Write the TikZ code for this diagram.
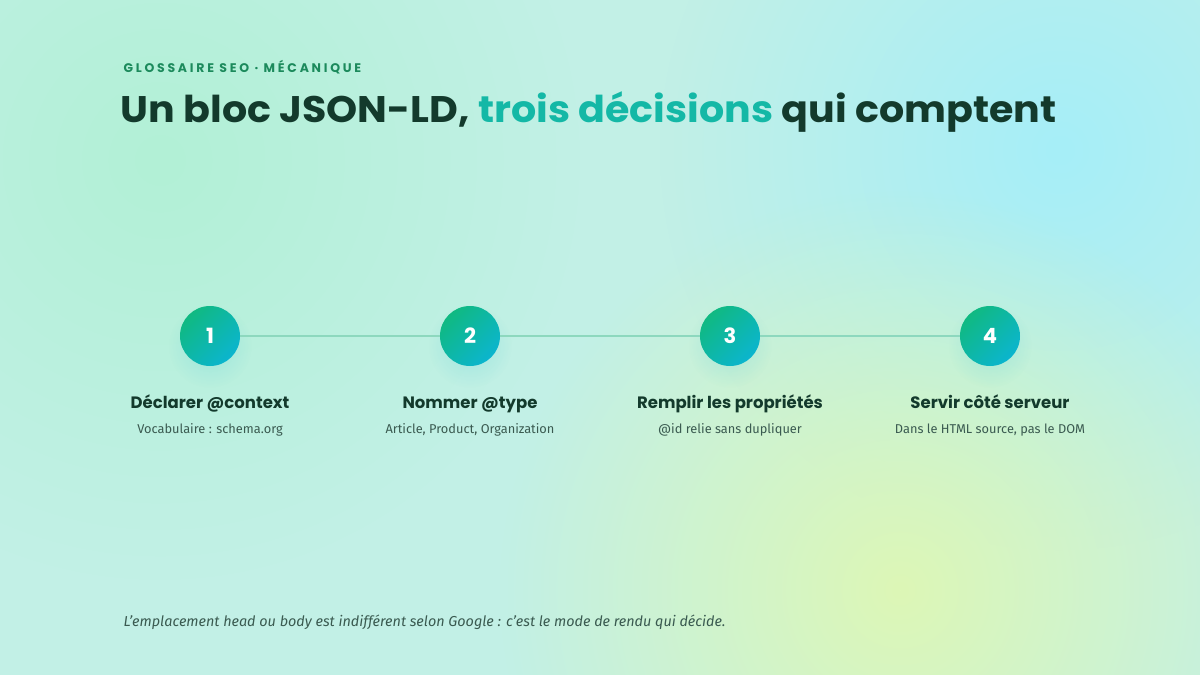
\documentclass[tikz,border=0pt]{standalone}
\usepackage{fontspec}
\setmainfont{Fira Sans}
\newfontfamily\headfont{Poppins}
\newfontfamily\titlefont{Poppins}[FakeStretch=1.07]
\newfontfamily\kickerfont{Poppins}[LetterSpace=22]
\usetikzlibrary{fadings}
\tikzfading[name=blobfade,inner color=transparent!0,outer color=transparent!100]
\definecolor{bgmint}{HTML}{C2F0E6}
\definecolor{blobgreen}{HTML}{B2F0D6}
\definecolor{blobcyan}{HTML}{A6EEF8}
\definecolor{blobyellow}{HTML}{DDF7B6}
\definecolor{inkdark}{HTML}{133A2C}
\definecolor{inkteal}{HTML}{14B8A6}
\definecolor{inkgreen}{HTML}{1C8A5C}
\definecolor{inkgrey}{HTML}{3A5A50}
\definecolor{stepgreen}{HTML}{10B981}
\definecolor{stepcyan}{HTML}{0BB5CF}
\definecolor{linkline}{HTML}{8DD8BE}
\begin{document}
\begin{tikzpicture}
[x=1pt,y=-1pt,
  stepdecorate/.style={shape=circle,minimum size=60pt,inner sep=0pt,
    top color=stepgreen,bottom color=stepcyan,shading angle=45,
    text=white,font=\headfont\bfseries\fontsize{21}{21}\selectfont},%
  titledecorate/.style={anchor=base,text=inkdark,
    font=\headfont\bfseries\fontsize{16.5}{18}\selectfont},%
  descdecorate/.style={anchor=base,text=inkgrey,
    font=\fontsize{12.8}{14}\selectfont},%
  linedecorate/.style={-,line width=2.5pt,draw=linkline}]
\useasboundingbox (0,0) rectangle (1200,675);
%% background
\fill[bgmint] (0,0) rectangle (1200,675);
\begin{scope}
\clip (0,0) rectangle (1200,675);
\fill[blobgreen,path fading=blobfade] (160,160) circle (420);
\fill[blobcyan,path fading=blobfade] (1060,150) circle (400);
\fill[blobyellow,path fading=blobfade] (900,590) circle (400);
\end{scope}
%% heading
\node (kicker) at (120,72) [anchor=base west,text=inkgreen,
  font=\kickerfont\bfseries\fontsize{12.5}{12}\selectfont]
  {GLOSSAIRE SEO · MÉCANIQUE};
\node (title) at (117,122) [anchor=base west,text=inkdark,
  font=\titlefont\bfseries\fontsize{37}{40}\selectfont]
  {Un bloc JSON-LD, \textcolor{inkteal}{trois décisions} qui comptent};
%% steps
\foreach \nodename/\x/\titre/\desc in {1/210/{Déclarer @context}/{Vocabulaire : schema.org},
  2/470/{Nommer @type}/{Article, Product, Organization},
  3/730/{Remplir les propriétés}/{@id relie sans dupliquer},
  4/990/{Servir côté serveur}/{Dans le HTML source, pas le DOM}} {
  \fill[stepcyan,opacity=0.18,path fading=blobfade] (\x,346) circle (42);
  \node (s\nodename) at (\x,336) [stepdecorate] {\nodename};
  \node (t\nodename) at (\x,408) [titledecorate] {\titre};
  \node (d\nodename) at (\x,433) [descdecorate] {\desc};
}
%% links
\path
\foreach \startnode/\endnode in {1/2, 2/3, 3/4} {
  (s\startnode) edge[linedecorate] (s\endnode)
};
%% footnote
\node (note) at (120,626) [anchor=base west,text=inkgrey,
  font=\itshape\fontsize{14.4}{16}\selectfont]
  {L'emplacement head ou body est indifférent selon Google : c'est le mode de rendu qui décide.};
\end{tikzpicture}
\end{document}
